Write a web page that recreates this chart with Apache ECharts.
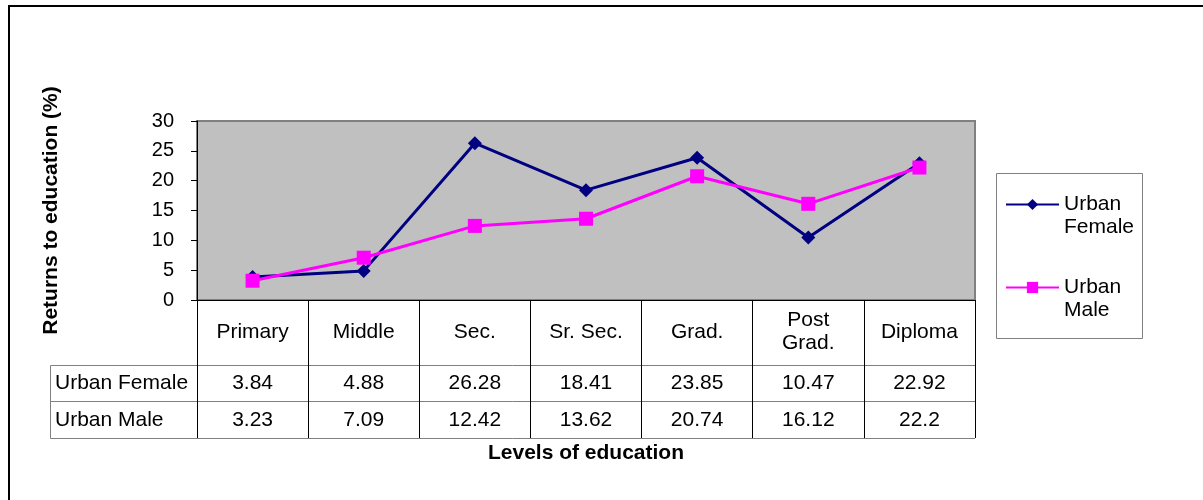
<!DOCTYPE html>
<html>
<head>
<meta charset="utf-8">
<script src="https://cdn.jsdelivr.net/npm/echarts@6/dist/echarts.min.js"></script>
<style>
  html, body { margin: 0; padding: 0; background: #fff; }
  #chart { width: 1203px; height: 500px; }
</style>
</head>
<body>
<div id="chart"></div>
<script>
// Levels of education and estimated returns (%)
const categories = ['Primary', 'Middle', 'Sec.', 'Sr. Sec.', 'Grad.', 'Post\nGrad.', 'Diploma'];
const urbanFemale = [3.84, 4.88, 26.28, 18.41, 23.85, 10.47, 22.92];
const urbanMale = [3.23, 7.09, 12.42, 13.62, 20.74, 16.12, 22.2];
const seriesNames = ['Urban Female', 'Urban Male'];
const yTicks = { min: 0, max: 30, interval: 5 };

const FONT = "'Liberation Sans', Arial, sans-serif";
const FS = 21;

const chart = echarts.init(document.getElementById('chart'), null, { renderer: 'canvas' });

// Value row of the data table rendered as an extra bottom axis
function tableRowAxis(values, margin) {
  return {
    type: 'category',
    gridIndex: 0,
    position: 'bottom',
    offset: 0,
    data: categories,
    axisLine: { show: false },
    axisTick: { show: false },
    splitLine: { show: false },
    axisLabel: {
      interval: 0,
      margin: margin,
      verticalAlign: 'middle',
      color: '#000',
      fontFamily: FONT,
      fontSize: FS,
      formatter: (v, i) => String(values[i])
    }
  };
}

const option = {
  backgroundColor: '#fff',
  animation: false,
  grid: {
    left: 197, right: 228, top: 121, bottom: 200,
    show: true,
    backgroundColor: '#C0C0C0',
    borderColor: '#808080',
    borderWidth: 2,
    containLabel: false
  },
  legend: {
    orient: 'vertical',
    left: 1005,
    top: 170,
    padding: 0,
    itemWidth: 53,
    itemHeight: 14,
    itemGap: 14,
    data: seriesNames,
    // blank first line keeps the icon level with the first word
    formatter: name => '\n' + name.replace(' ', '\n'),
    textStyle: {
      color: '#000',
      fontFamily: FONT,
      fontSize: FS,
      lineHeight: 23
    }
  },
  xAxis: [
    {
      type: 'category',
      data: categories,
      position: 'bottom',
      boundaryGap: true,
      name: 'Levels of education',
      nameLocation: 'middle',
      nameGap: 143,
      nameTextStyle: { color: '#000', fontFamily: FONT, fontSize: FS, fontWeight: 'bold' },
      axisLine: { show: true, lineStyle: { color: '#000', width: 1 } },
      axisTick: { show: true, length: 138, lineStyle: { color: '#000', width: 1 } },
      splitLine: { show: false },
      axisLabel: {
        interval: 0,
        margin: 32,
        verticalAlign: 'middle',
        lineHeight: 23,
        color: '#000',
        fontFamily: FONT,
        fontSize: FS
      }
    },
    tableRowAxis(urbanFemale, 83),
    tableRowAxis(urbanMale, 120)
  ],
  yAxis: {
    type: 'value',
    min: yTicks.min,
    max: yTicks.max,
    interval: yTicks.interval,
    name: 'Returns to education (%)',
    nameLocation: 'middle',
    nameGap: 135,
    nameRotate: 90,
    nameTextStyle: { color: '#000', fontFamily: FONT, fontSize: FS, fontWeight: 'bold' },
    axisLine: { show: true, lineStyle: { color: '#000', width: 1 } },
    axisTick: { show: true, length: 6, lineStyle: { color: '#000' } },
    splitLine: { show: false },
    axisLabel: { margin: 23, color: '#000', fontFamily: FONT, fontSize: 20 }
  },
  series: [
    {
      name: seriesNames[0],
      type: 'line',
      xAxisIndex: 0,
      data: urbanFemale,
      symbol: 'diamond',
      symbolSize: 14,
      itemStyle: { color: '#000080' },
      lineStyle: { color: '#000080', width: 3 },
      z: 3
    },
    {
      name: seriesNames[1],
      type: 'line',
      xAxisIndex: 0,
      data: urbanMale,
      symbol: 'rect',
      symbolSize: 14,
      itemStyle: { color: '#FF00FF' },
      lineStyle: { color: '#FF00FF', width: 3 },
      z: 4
    }
  ],
  graphic: [
    // outer frame (top and left edges)
    { type: 'line', shape: { x1: 8, y1: 6, x2: 1203, y2: 6 }, style: { stroke: '#000', lineWidth: 2 }, silent: true },
    { type: 'line', shape: { x1: 9, y1: 5, x2: 9, y2: 500 }, style: { stroke: '#000', lineWidth: 2 }, silent: true },
    // legend frame
    { type: 'rect', shape: { x: 996.5, y: 173.5, width: 146, height: 165 }, style: { fill: 'none', stroke: '#808080', lineWidth: 1 }, silent: true, z: -1 }
  ]
};

chart.setOption(option);

// Data table: row rules and row headings, aligned to the plot's x extent
const gridRect = chart.getModel().getComponent('grid', 0).coordinateSystem.getRect();
const tableLeft = 50.5;
const tableRight = gridRect.x + gridRect.width;
const rowLines = [365.5, 401.5, 438.5];
const rowCenters = [383, 420];
const tableGraphics = rowLines.map(y => ({
  type: 'line',
  shape: { x1: tableLeft, y1: y, x2: tableRight, y2: y },
  style: { stroke: '#808080', lineWidth: 1 },
  silent: true
}));
tableGraphics.push({
  type: 'line',
  shape: { x1: tableLeft, y1: rowLines[0], x2: tableLeft, y2: rowLines[2] },
  style: { stroke: '#808080', lineWidth: 1 },
  silent: true
});
seriesNames.forEach((n, i) => {
  tableGraphics.push({
    type: 'text',
    x: 55, y: rowCenters[i],
    style: { text: n, fill: '#000', font: FS + 'px ' + FONT, verticalAlign: 'middle', align: 'left' },
    silent: true
  });
});
chart.setOption({ graphic: option.graphic.concat(tableGraphics) }, { replaceMerge: ['graphic'] });
</script>
</body>
</html>
